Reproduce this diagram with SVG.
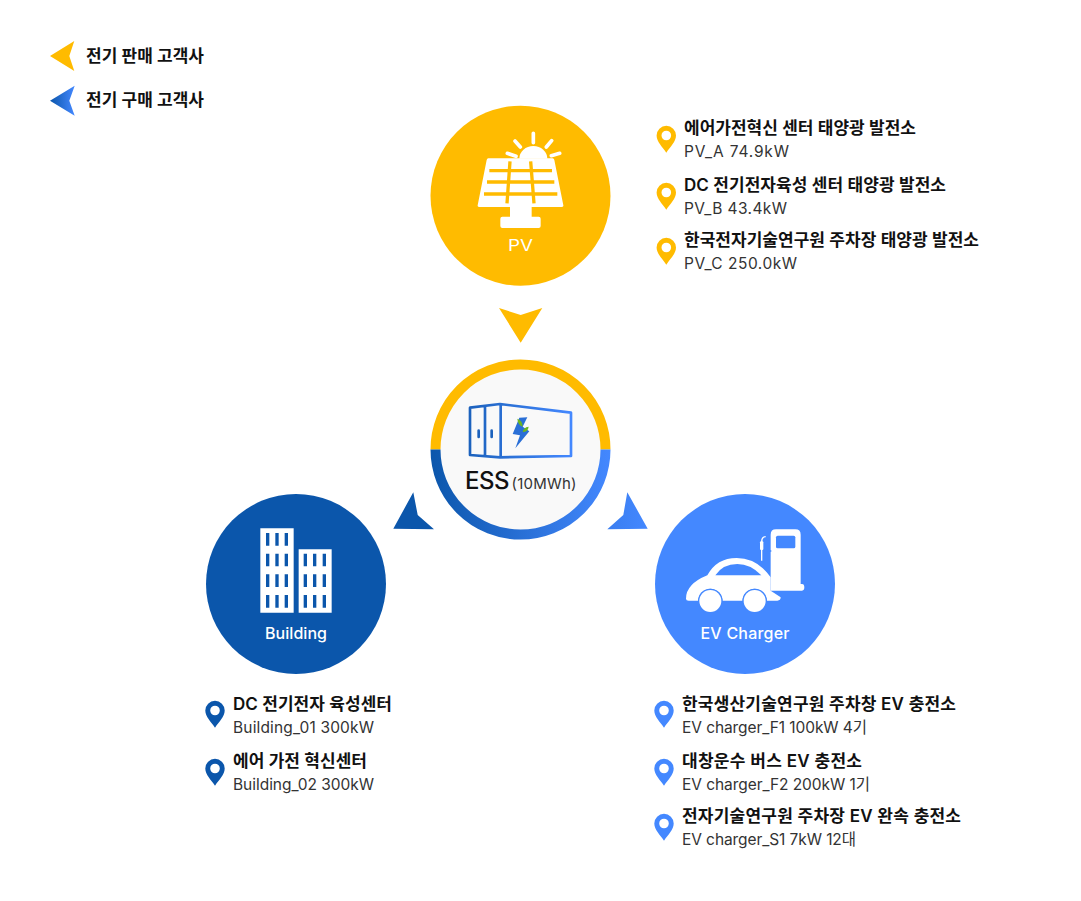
<svg xmlns="http://www.w3.org/2000/svg" width="1081" height="901" viewBox="0 0 1081 901">
<style>
text{font-family:"Inter","Noto Sans CJK KR",sans-serif}
.h{font-size:17px;font-weight:600;fill:#111}
.s{font-size:15.5px;font-weight:400;fill:#333}
.l{font-size:17px;font-weight:600;fill:#111}
.c{font-size:16px;font-weight:500;fill:#fff}
.w{fill:#fff}
</style>
<defs>
<linearGradient id="gb" x1="0" x2="1" y1="0" y2="0"><stop offset="0" stop-color="#0b56ab"/><stop offset="1" stop-color="#4488ff"/></linearGradient>
<linearGradient id="gring" gradientUnits="userSpaceOnUse" x1="430" x2="611" y1="0" y2="0"><stop offset="0" stop-color="#0b56ab"/><stop offset="1" stop-color="#4488ff"/></linearGradient>
<linearGradient id="gicon" gradientUnits="userSpaceOnUse" x1="238" x2="545" y1="0" y2="0"><stop offset="0" stop-color="#1c62bd"/><stop offset="1" stop-color="#4488ff"/></linearGradient>
<linearGradient id="ga" gradientUnits="userSpaceOnUse" x1="607" x2="648" y1="0" y2="0"><stop offset="0" stop-color="#3a7ef0"/><stop offset="1" stop-color="#4488ff"/></linearGradient>
<path id="pin" d="M0 -10.2a9.7 9.7 0 0 1 9.7 9.7c0 6.2-6 11.5-9.7 17.2c-3.7-5.700-9.700-11-9.700-17.200a9.700 9.700 0 0 1 9.700-9.700zM0 -5.300a4.800 4.800 0 1 0 0 9.600a4.800 4.800 0 1 0 0-9.600z" fill-rule="evenodd"/>
</defs>

<g id="legend">
<path d="M50 56L74.300 41L69.300 56L74.300 71Z" fill="#ffbb00"/>
<path d="M50 100.700L74.700 85.700L69.300 100.700L74.700 115.700Z" fill="url(#gb)"/>
<text class="l" x="86" y="62" textLength="118">전기 판매 고객사</text>
<text class="l" x="86" y="106" textLength="118">전기 구매 고객사</text>
</g>

<g id="connectors">
<path d="M499 308L520.700 315L542.300 308L520.700 342.700Z" fill="#ffbb00"/>
<path d="M413.300 492.300L417.700 515L434 529.300L393.300 528.700Z" fill="#0b56ab"/>
<path d="M627.300 492.300L623.300 515L607.300 529.300L647.700 528.700Z" fill="url(#ga)"/>
</g>

<g id="pv">
<circle cx="520.500" cy="195.700" r="90" fill="#ffbb00"/>
<g transform="translate(420 100) scale(.33333)">
<path class="w" d="M205 175H398Q402 175 403 180L430 316Q431 321 426 321H177Q172 321 173 316L200 180Q201 175 205 175Z"/>
<path d="M298 176A42 38 0 0 1 382 176Z" class="w"/>
<path d="M208 212H396M201 246H403M192 282H412M270 184L261 310M332 184L342 310" stroke="#ffbb00" stroke-width="10" fill="none"/>
<path d="M340 100V128M285 123L301 141M395 122L379 141M262 160L288 169M419 160L394 167" stroke="#fff" stroke-width="11" stroke-linecap="round" fill="none"/>
<path class="w" d="M270 321H335V350H356Q362 350 362 356V378Q362 384 356 384H247Q241 384 241 378V356Q241 350 247 350H270Z"/>
</g>
<text x="508" y="250.500" font-size="15.500" fill="#fff" textLength="25" lengthAdjust="spacingAndGlyphs">PV</text>
</g>

<g id="ess">
<circle cx="520.500" cy="449.500" r="85" fill="#f9f9f9"/>
<path d="M435.500 449.500A85 85 0 0 1 605.500 449.500" fill="none" stroke="#ffbb00" stroke-width="10"/>
<path d="M435.500 449.500A85 85 0 0 0 605.500 449.500" fill="none" stroke="url(#gring)" stroke-width="10"/>
<g transform="translate(390 300) scale(.33333)">
<path d="M240 323L330 312L543 338V468L330 472L240 465ZM285 320V468M332 314V472" fill="none" stroke="url(#gicon)" stroke-width="8" stroke-linejoin="round"/>
<rect x="262" y="388" width="8" height="27" rx="4" fill="#1c62bd"/>
<rect x="301" y="388" width="8" height="27" rx="4" fill="#1c62bd"/>
<path d="M388 353L412 352L398 380L418 394L376 445L390 406L368 402Z" fill="#2a6fd6"/>
<path d="M382 356Q398 362 398 380Q384 376 382 356ZM416 380Q414 396 398 396Q400 382 416 380Z" fill="#6cb51f"/>
</g>
<text x="465" y="489" font-size="24" font-weight="500" fill="#111" textLength="44.500">ESS</text>
<text x="511.500" y="489" font-size="15" fill="#333" textLength="65">(10MWh)</text>
</g>

<g id="building">
<circle cx="296" cy="584" r="90" fill="#0b56ab"/>
<g transform="translate(200 490) scale(.33333)">
<path class="w" d="M181 115H281V368H181ZM296 178H395V368H296Z"/>
<path d="M203 129V167M203 191V229M203 253V291M203 315V353M231 129V167M231 191V229M231 253V291M231 315V353M259 129V167M259 191V229M259 253V291M259 315V353M316 191V229M316 253V291M316 315V353M344 191V229M344 253V291M344 315V353M373 191V229M373 253V291M373 315V353" stroke="#0b56ab" stroke-width="10"/>
</g>
<text class="c" x="265" y="639" textLength="62">Building</text>
</g>

<g id="ev">
<circle cx="745" cy="584" r="90" fill="#4488ff"/>
<g transform="translate(650 490) scale(.33333)">
<path class="w" d="M378 118H436Q452 118 452 134V282H456Q463 282 463 292Q463 302 456 302H362V134Q362 118 378 118Z"/>
<rect x="378" y="137" width="58" height="38" rx="5" fill="#4488ff"/>
<path class="w" d="M108 326Q108 282 172 256Q200 204 260 204Q322 204 362 262V302L392 322Q392 332 382 332H350A36 36 0 0 0 278 332H217A36 36 0 0 0 145 332H116Q108 332 108 326Z"/>
<path d="M196 256Q218 222 262 222Q302 222 334 256Z" fill="#4488ff"/>
<circle cx="181" cy="333" r="37" fill="#4488ff"/><circle cx="181" cy="333" r="33" class="w"/>
<circle cx="314" cy="333" r="37" fill="#4488ff"/><circle cx="314" cy="333" r="33" class="w"/>
<path d="M364 183H358Q352 183 352 192V246" fill="none" stroke="#4488ff" stroke-width="4"/>
<path d="M347 140Q335 140 335 156V212" fill="none" stroke="#fff" stroke-width="4"/>
<rect x="330" y="154" width="10" height="26" rx="3" class="w"/>
</g>
<text class="c" x="700.500" y="639" textLength="89">EV Charger</text>
</g>

<g id="pv-list" fill="#ffbb00">
<use href="#pin" x="666.300" y="136"/><use href="#pin" x="666.300" y="193"/><use href="#pin" x="666.300" y="248"/>
<text class="h" x="684" y="134" textLength="232">에어가전혁신 센터 태양광 발전소</text>
<text class="s" x="684" y="157" textLength="105">PV_A 74.9kW</text>
<text class="h" x="684" y="191" textLength="262">DC 전기전자육성 센터 태양광 발전소</text>
<text class="s" x="684" y="214" textLength="103">PV_B 43.4kW</text>
<text class="h" x="684" y="246" textLength="295">한국전자기술연구원 주차장 태양광 발전소</text>
<text class="s" x="684" y="269" textLength="113">PV_C 250.0kW</text>
</g>

<g id="building-list" fill="#0b56ab">
<use href="#pin" x="215" y="711"/><use href="#pin" x="215" y="769"/>
<text class="h" x="233" y="710" textLength="159">DC 전기전자 육성센터</text>
<text class="s" x="233" y="733" textLength="141">Building_01 300kW</text>
<text class="h" x="233" y="767" textLength="134">에어 가전 혁신센터</text>
<text class="s" x="233" y="790" textLength="141">Building_02 300kW</text>
</g>

<g id="ev-list" fill="#4488ff">
<use href="#pin" x="664" y="711"/><use href="#pin" x="664" y="769"/><use href="#pin" x="664" y="824"/>
<text class="h" x="682" y="710" textLength="274">한국생산기술연구원 주차창 EV 충전소</text>
<text class="s" x="682" y="733" textLength="185">EV charger_F1 100kW 4기</text>
<text class="h" x="682" y="767" textLength="180">대창운수 버스 EV 충전소</text>
<text class="s" x="682" y="790" textLength="188">EV charger_F2 200kW 1기</text>
<text class="h" x="682" y="822" textLength="279">전자기술연구원 주차장 EV 완속 충전소</text>
<text class="s" x="682" y="845" textLength="174">EV charger_S1 7kW 12대</text>
</g>
</svg>
